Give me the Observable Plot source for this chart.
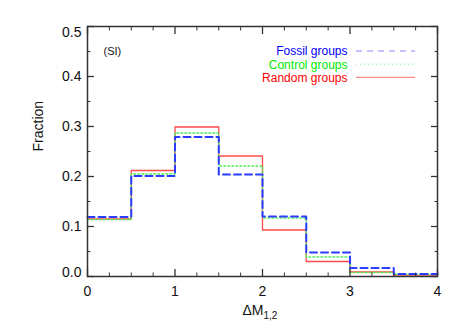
<!DOCTYPE html>
<html>
<head>
<meta charset="utf-8">
<script src="https://cdn.jsdelivr.net/npm/d3@7"></script>
<script src="https://cdn.jsdelivr.net/npm/@observablehq/plot@0.6"></script>
<style>
  html, body { margin: 0; padding: 0; background: #fff; }
  #chart { width: 463px; height: 331px; }
  svg { font-family: "Liberation Sans", Arial, sans-serif; }
</style>
</head>
<body>
<div id="chart"></div>
<script>
// Bin edges (left edges) of ΔM1,2 histogram, width 0.5
const binEdges = [0, 0.5, 1, 1.5, 2, 2.5, 3, 3.5, 4];
const fossil  = [0.119, 0.201, 0.279, 0.204, 0.120, 0.048, 0.017, 0.005];
const control = [0.114, 0.205, 0.287, 0.221, 0.117, 0.039, 0.008, 0.004];
const random  = [0.115, 0.212, 0.299, 0.241, 0.093, 0.030, 0.009, 0.001];

const seriesNames = ["Fossil groups", "Control groups", "Random groups"];
const textColors = ["#0000ff", "#00ee00", "#ff0000"];
const legendLineColors = ["#8a8aff", "#8aff8a", "#ff8a8a"];
const legendDash = ["6,5", "1,3", null];

const xMajor = [0, 1, 2, 3, 4];
const xMinor = [0.25, 0.5, 0.75, 1.25, 1.5, 1.75, 2.25, 2.5, 2.75, 3.25, 3.5, 3.75];
const yMajor = [0, 0.1, 0.2, 0.3, 0.4, 0.5];
const yMinor = [0.05, 0.15, 0.25, 0.35, 0.45];
const yTickLabels = ["0.0", "0.1", "0.2", "0.3", "0.4", "0.5"];

function steps(vals) {
  const pts = vals.map((v, i) => ({x: binEdges[i], y: v}));
  pts.push({x: binEdges[binEdges.length - 1], y: vals[vals.length - 1]});
  return pts;
}

const axisColor = "#333";
const rowGap = 13.2;
const legendTop = 25;

// legend sample lines drawn relative to the frame
function legendLines(index, scales, values, dim) {
  const svg = d3.create("svg:g");
  const right = dim.width - dim.marginRight;
  seriesNames.forEach((name, i) => {
    const y = dim.marginTop + legendTop + i * rowGap;
    const l = svg.append("line")
      .attr("x1", right - 81).attr("x2", right - 22)
      .attr("y1", y).attr("y2", y)
      .attr("stroke", legendLineColors[i])
      .attr("stroke-width", 1.2);
    if (legendDash[i]) l.attr("stroke-dasharray", legendDash[i]);
  });
  return svg.node();
}

const legendTexts = seriesNames.map((name, i) =>
  Plot.text([name], {frameAnchor: "top-right", dx: -90, dy: legendTop + i * rowGap, text: d => d,
    fontSize: 12, textAnchor: "end", lineAnchor: "middle", fill: textColors[i]})
);

const chart = Plot.plot({
  width: 463,
  height: 331,
  marginLeft: 87,
  marginRight: 26,
  marginTop: 26,
  marginBottom: 55,
  style: {fontFamily: "'Liberation Sans', Arial, sans-serif", background: "#fff"},
  x: {domain: [0, 4]},
  y: {domain: [0, 0.5]},
  marks: [
    // step histograms
    Plot.line(steps(random), {x: "x", y: "y", curve: "step-after", stroke: "#ff4a4a", strokeWidth: 1.3}),
    Plot.line(steps(control), {x: "x", y: "y", curve: "step-after", stroke: "#4ef04e", strokeWidth: 1.6, strokeDasharray: "1.5,2.5"}),
    Plot.line(steps(fossil), {x: "x", y: "y", curve: "step-after", stroke: "#2a3cff", strokeWidth: 2, strokeDasharray: "7,4"}),
    // frame
    Plot.frame({stroke: axisColor, strokeWidth: 1.5}),
    // inward ticks on all sides
    Plot.axisX(xMajor, {anchor: "bottom", tickSize: -7, tickFormat: () => "", stroke: axisColor, strokeWidth: 1.3, label: null}),
    Plot.axisX(xMinor, {anchor: "bottom", tickSize: -3.5, tickFormat: () => "", stroke: axisColor, label: null}),
    Plot.axisX(xMajor, {anchor: "top", tickSize: -7, tickFormat: () => "", stroke: axisColor, strokeWidth: 1.3, label: null}),
    Plot.axisX(xMinor, {anchor: "top", tickSize: -3.5, tickFormat: () => "", stroke: axisColor, label: null}),
    Plot.axisY(yMajor, {anchor: "left", tickSize: -7, tickFormat: () => "", stroke: axisColor, strokeWidth: 1.3, label: null}),
    Plot.axisY(yMinor, {anchor: "left", tickSize: -3.5, tickFormat: () => "", stroke: axisColor, label: null}),
    Plot.axisY(yMajor, {anchor: "right", tickSize: -7, tickFormat: () => "", stroke: axisColor, strokeWidth: 1.3, label: null}),
    Plot.axisY(yMinor, {anchor: "right", tickSize: -3.5, tickFormat: () => "", stroke: axisColor, label: null}),
    // tick labels
    Plot.axisX(xMajor, {anchor: "bottom", tickSize: 0, tickPadding: 10, fontSize: 14, fill: "#111", label: null}),
    Plot.axisY(yMajor.slice(1, -1), {anchor: "left", tickSize: 0, tickPadding: 6, fontSize: 14, fill: "#111",
      tickFormat: d => yTickLabels[yMajor.indexOf(d)], label: null}),
    Plot.axisY(yMajor.slice(0, 1), {anchor: "left", tickSize: 0, tickPadding: 6, fontSize: 14, fill: "#111", dy: -4,
      tickFormat: d => yTickLabels[yMajor.indexOf(d)], label: null}),
    Plot.axisY(yMajor.slice(-1), {anchor: "left", tickSize: 0, tickPadding: 6, fontSize: 14, fill: "#111", dy: 6,
      tickFormat: d => yTickLabels[yMajor.indexOf(d)], label: null}),
    // axis titles
    Plot.text(["ΔM"], {frameAnchor: "bottom", dy: 38, dx: 1, text: d => d, fontSize: 14, fill: "#111", textAnchor: "end"}),
    Plot.text(["1,2"], {frameAnchor: "bottom", dy: 42, dx: 1, text: d => d, fontSize: 10, fill: "#111", textAnchor: "start"}),
    Plot.text(["Fraction"], {frameAnchor: "left", dx: -49, dy: 0, rotate: -90, text: d => d, fontSize: 14, fill: "#111"}),
    // (SI) label
    Plot.text(["(SI)"], {frameAnchor: "top-left", dx: 16, dy: 21, text: d => d, fontSize: 11, fill: "#111", textAnchor: "start"}),
    // legend
    ...legendTexts,
    legendLines
  ]
});
document.getElementById("chart").appendChild(chart);
</script>
</body>
</html>
